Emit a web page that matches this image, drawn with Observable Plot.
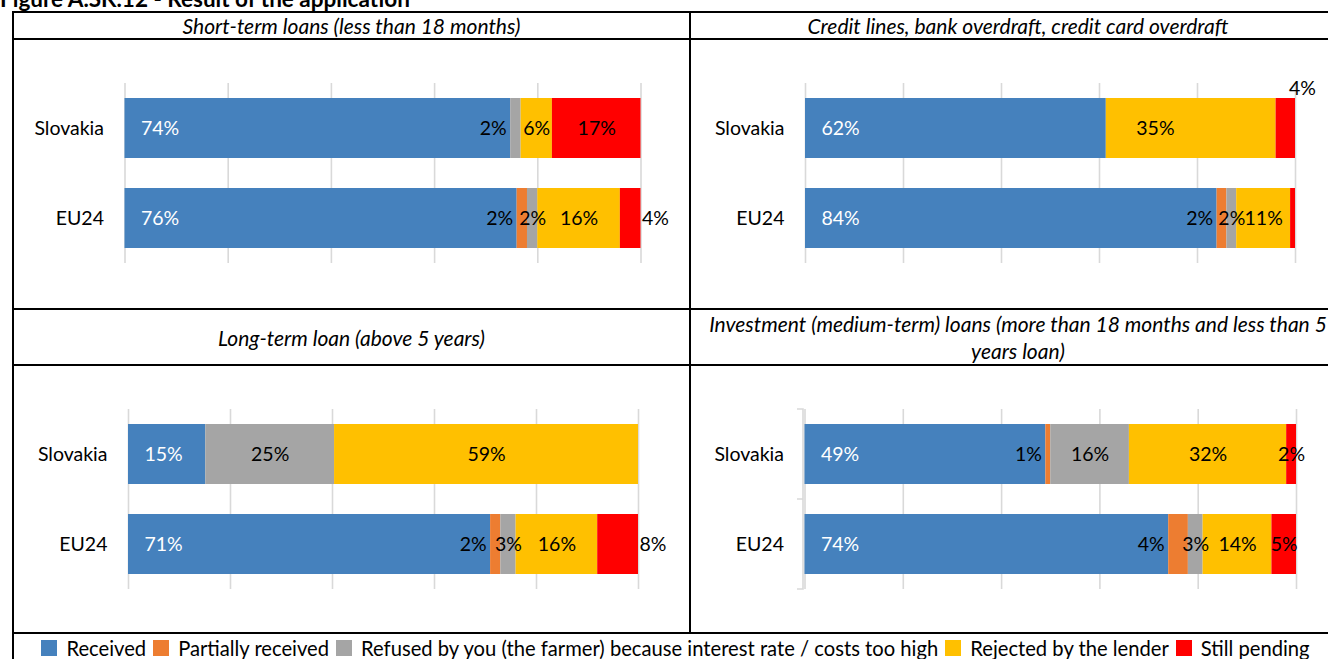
<!DOCTYPE html>
<html><head><meta charset="utf-8">
<script src="https://cdn.jsdelivr.net/npm/d3@7"></script>
<script src="https://cdn.jsdelivr.net/npm/@observablehq/plot@0.6"></script>
<style>
body{margin:0;background:#fff;}
#root{position:relative;width:1328px;height:659px;overflow:hidden;font-family:Lato,sans-serif;color:#000;}
.line{position:absolute;background:#000;}
.hdr{position:absolute;display:flex;align-items:center;justify-content:center;text-align:center;font-style:italic;font-size:21px;line-height:27px;white-space:nowrap;}
.panel{position:absolute;}
#title{position:absolute;left:0;top:-11.5px;font-weight:bold;font-size:22.5px;line-height:20px;white-space:nowrap;}
#legend{position:absolute;left:13px;width:1332px;top:637px;display:flex;justify-content:center;align-items:center;font-size:20.2px;line-height:22px;white-space:nowrap;}
.sw{display:inline-block;width:16px;height:16px;margin-right:9px;flex:none;}
.item{display:flex;align-items:center;margin-right:7px;}
</style></head>
<body><div id="root"></div>
<script>
// ---------- data ----------
const figureTitle = "Figure A.SK.12 - Result of the application";
const seriesNames = ["Received", "Partially received", "Refused by you (the farmer) because interest rate / costs too high", "Rejected by the lender", "Still pending"];
const seriesColors = ["#4581BD", "#ED7D31", "#A5A5A5", "#FFC000", "#FF0000"];
const countries = ["Slovakia", "EU24"];
const panelTitles = [
  "Short-term loans (less than 18 months)",
  "Credit lines, bank overdraft, credit card overdraft",
  "Long-term loan (above 5 years)",
  "Investment (medium-term) loans (more than 18 months and less than 5\nyears loan)"
];
const shortTermSlovakia   = [74, 0, 2, 6, 17];
const shortTermEU24       = [76, 2, 2, 16, 4];
const creditLinesSlovakia = [62, 0, 0, 35, 4];
const creditLinesEU24     = [84, 2, 2, 11, 1];
const longTermSlovakia    = [15, 0, 25, 59, 0];
const longTermEU24        = [71, 2, 3, 16, 8];
const investmentSlovakia  = [49, 1, 16, 32, 2];
const investmentEU24      = [74, 4, 3, 14, 5];
const panelValues = [
  [shortTermSlovakia, shortTermEU24],
  [creditLinesSlovakia, creditLinesEU24],
  [longTermSlovakia, longTermEU24],
  [investmentSlovakia, investmentEU24]
];
// label placement exceptions (as in the original chart)
const labelOverrides = {
  "0|Slovakia|2": "before",
  "0|EU24|4": "after",
  "1|Slovakia|3": "base",
  "1|Slovakia|4": "above",
  "1|EU24|4": "none",
  "2|EU24|4": "after"
};

// ---------- layout ----------
const root = document.getElementById("root");
function el(tag, cls, style, html) {
  const e = document.createElement(tag);
  if (cls) e.className = cls;
  Object.assign(e.style, style || {});
  if (html != null) e.innerHTML = html;
  root.appendChild(e);
  return e;
}
el("div", null, {}, figureTitle).id = "title";

const boxes = [
  {left: 13, top: 40, width: 677, height: 269, ml: 111.5, mr: 49.5, mt: 43, mb: 46},
  {left: 690, top: 40, width: 638, height: 269, ml: 115, mr: 33, mt: 43, mb: 46},
  {left: 13, top: 366, width: 677, height: 266, ml: 115, mr: 52, mt: 43, mb: 43},
  {left: 690, top: 366, width: 638, height: 266, ml: 114.5, mr: 32, mt: 43, mb: 43}
];
const headers = [
  {left: 14, top: 13, width: 675, height: 25},
  {left: 691, top: 13, width: 654, height: 25},
  {left: 14, top: 310, width: 675, height: 54},
  {left: 691, top: 310, width: 654, height: 54}
];
headers.forEach((h, i) => {
  el("div", "hdr", {left: h.left + "px", top: h.top + "px", width: h.width + "px", height: h.height + "px"},
     panelTitles[i].replace("\n", "<br>"));
});

function placement(p, d) {
  const k = p + "|" + d.country + "|" + d.si;
  if (labelOverrides[k]) return labelOverrides[k];
  if (d.si === 0) return "inbase";
  if (d.si === 1) return "before";
  return "center";
}

boxes.forEach((b, p) => {
  const data = countries.flatMap((c, ci) => seriesNames.map((s, si) => ({country: c, series: s, si, value: panelValues[p][ci][si]})));
  const lab = type => d => (d.value > 0 && placement(p, d) === type) ? d.value + "%" : null;
  const common = {x: "value", y: "country", z: "series", offset: "normalize"};
  const chart = Plot.plot({
    width: b.width, height: b.height,
    marginLeft: b.ml, marginRight: b.mr, marginTop: b.mt, marginBottom: b.mb,
    style: {fontFamily: "Lato, sans-serif", fontSize: "19.5px", background: "transparent", overflow: "visible", color: "#000"},
    x: {domain: [0, 1], axis: null},
    y: {domain: countries, paddingInner: 1/3, paddingOuter: 1/6, tickSize: 0, tickPadding: 21, label: null},
    color: {domain: seriesNames, range: seriesColors},
    marks: [
      Plot.ruleX(d3.ticks(0, 1, 5), {stroke: "#d9d9d9", strokeWidth: 1.6}),
      Plot.barX(data, Plot.stackX({...common, fill: "series"})),
      Plot.text(data, Plot.stackX1({...common, text: lab("inbase"), dx: 16, textAnchor: "start", fill: "white"})),
      Plot.text(data, Plot.stackX1({...common, text: lab("base"), dx: 30, textAnchor: "start", fill: "black"})),
      Plot.text(data, Plot.stackX1({...common, text: lab("before"), dx: -4, textAnchor: "end", fill: "black"})),
      Plot.text(data, Plot.stackX({...common, text: lab("center"), fill: "black"})),
      Plot.text(data, Plot.stackX2({...common, text: lab("after"), dx: 1, textAnchor: "start", fill: "black"})),
      Plot.text(data, Plot.stackX2({...common, text: lab("above"), dx: 7, dy: -40, fill: "black"}))
    ]
  });
  const wrap = el("div", "panel", {left: b.left + "px", top: b.top + "px"});
  wrap.appendChild(chart);
  if (p === 3) {
    const yr = chart.scale("y").range;
    const x0 = b.ml - 1.5;
    const mid = (yr[0] + yr[1]) / 2;
    d3.select(chart).append("path")
      .attr("d", `M${x0 - 6},${yr[0]}H${x0}V${yr[1]}H${x0 - 6}M${x0 - 6},${mid}H${x0}`)
      .attr("fill", "none").attr("stroke", "#d9d9d9").attr("stroke-width", 1.6);
  }
});

// table lines
[
  {left: 12, top: 11, width: 2, height: 648},
  {left: 12, top: 11, width: 1316, height: 2},
  {left: 12, top: 38, width: 1316, height: 2},
  {left: 689, top: 11, width: 2, height: 622},
  {left: 12, top: 308, width: 1316, height: 2},
  {left: 12, top: 364, width: 1316, height: 2},
  {left: 12, top: 632, width: 1316, height: 2}
].forEach(l => el("div", "line", {left: l.left + "px", top: l.top + "px", width: l.width + "px", height: l.height + "px"}));

// legend
const legend = el("div", null, {});
legend.id = "legend";
seriesNames.forEach((s, i) => {
  const it = document.createElement("span");
  it.className = "item";
  it.innerHTML = `<span class="sw" style="background:${seriesColors[i]}"></span><span>${s}</span>`;
  legend.appendChild(it);
});
</script>
</body></html>
